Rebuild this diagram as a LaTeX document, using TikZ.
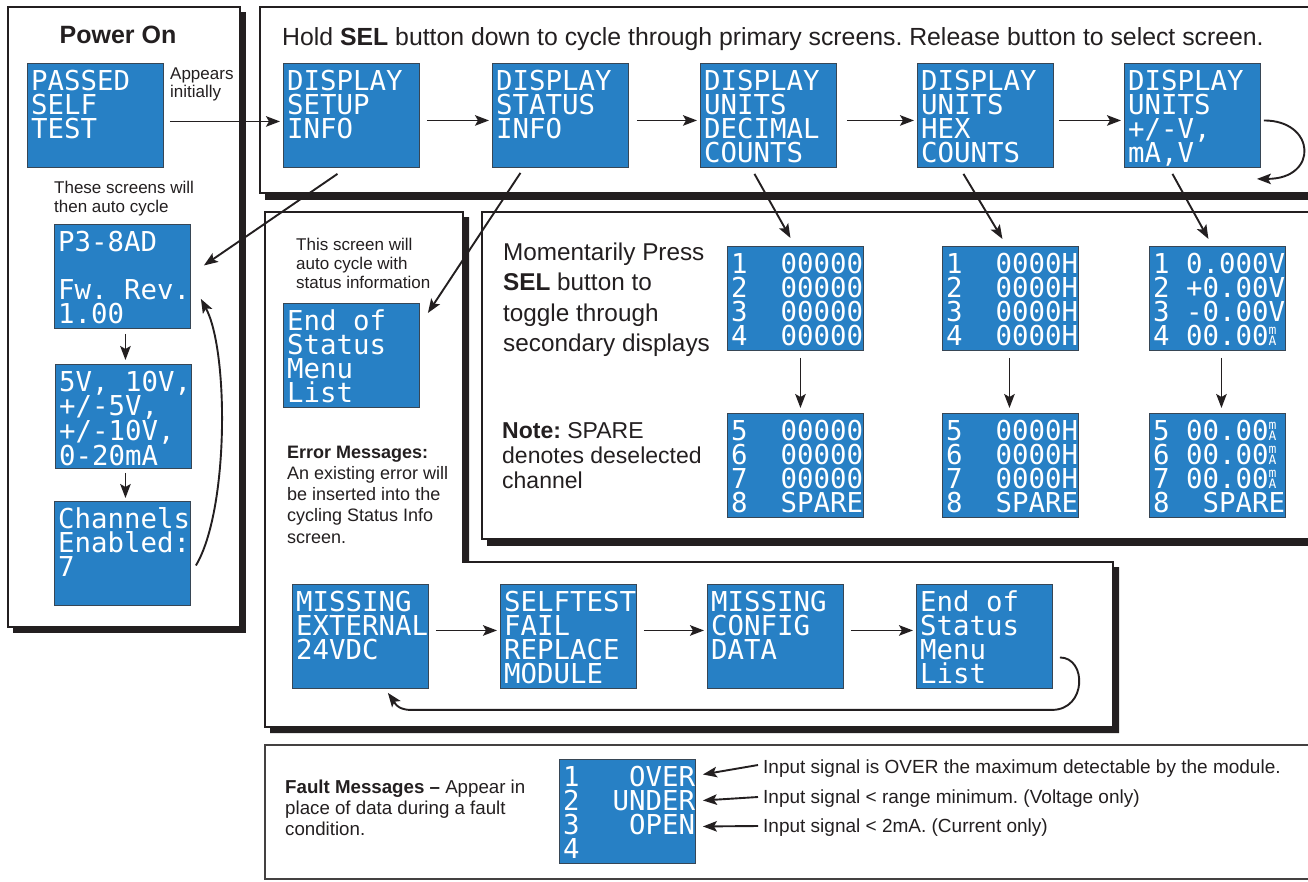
\documentclass[tikz,border=0pt]{standalone}
\usepackage{fontspec}
\setmainfont{Liberation Sans}
\newfontfamily\lcdfont{DejaVu Sans Mono}
\usetikzlibrary{arrows.meta,calc}
\definecolor{lcdblue}{RGB}{39,128,197}
\definecolor{ink}{RGB}{35,31,32}
\definecolor{lcdedge}{RGB}{55,70,85}
\frenchspacing
\tikzset{
  lcd/.style={draw=lcdedge, line width=0.9pt, fill=lcdblue, minimum width=136pt, minimum height=104pt, inner sep=0pt, anchor=north west},
  lcdtxt/.style={text=white, inner sep=0pt, anchor=base west, font=\lcdfont\fontsize{27.4}{24}\selectfont},
  arr/.style={draw=ink, line width=1.9pt, -{Stealth[length=14pt,width=10.5pt,inset=3pt]}},
  frame/.style={draw=ink, line width=1.5pt, fill=white},
  lbl/.style={inner sep=0pt, anchor=base west, text=ink},
}
\newcommand\tl[1]{\begin{tabular}[t]{@{}l@{}}#1\end{tabular}}
\newcommand\mAg{\makebox[0.602em][l]{\fontsize{13}{9}\selectfont\rlap{\raisebox{10.5pt}{m}}A}}
\newcommand\lcdscreen[4]{%
  \node[lcd] (#1) at (#2,#3) {};
  \node[lcdtxt] (#1-t) at ($(#1.north west)+(4,27)$) {\parbox[t]{140pt}{\lcdfont\fontsize{27.4}{24}\selectfont #4}};
}
\begin{document}
\begin{tikzpicture}[x=1pt,y=-1pt]
\useasboundingbox (0,0) rectangle (1308,881);
\clip (0,0) rectangle (1308,881);
% panels
\fill[ink] (13,12) rectangle (246,633);
\draw[frame] (8,7) rectangle (240,627);
\fill[ink] (265,12) rectangle (1320,200);
\draw[frame] (260,7) rectangle (1320,193);
\fill[ink] (487,217) rectangle (1320,546);
\draw[frame] (482,212) rectangle (1320,539);
\fill[ink] (270,217) -- (469,217) -- (469,567) -- (1119,567) -- (1119,733) -- (270,733) -- cycle;
\draw[frame] (265,212) -- (463,212) -- (463,562) -- (1113,562) -- (1113,727) -- (265,727) -- cycle;
\draw[frame, draw=ink!85] (265,745) rectangle (1320,879);

% screens
\lcdscreen{pass}{27}{63}{PASSED\\SELF\\TEST}
\lcdscreen{setup}{283}{63}{DISPLAY\\SETUP\\INFO}
\lcdscreen{status}{492}{63}{DISPLAY\\STATUS\\INFO}
\lcdscreen{dec}{700}{63}{DISPLAY\\UNITS\\DECIMAL\\COUNTS}
\lcdscreen{hex}{917}{63}{DISPLAY\\UNITS\\HEX\\COUNTS}
\lcdscreen{volt}{1124}{63}{DISPLAY\\UNITS\\+/-V,\\mA,V}
\lcdscreen{p3}{54}{224}{P3-8AD\\\mbox{}\\Fw.~Rev.\\1.00}
\lcdscreen{rng}{55}{364}{5V,~10V,\\+/-5V,\\+/-10V,\\0-20mA}
\lcdscreen{chan}{54}{501}{Channels\\Enabled:\\7}
\lcdscreen{endA}{283}{303}{End~of\\Status\\Menu\\List}
\lcdscreen{decA}{727}{246}{1~~00000\\2~~00000\\3~~00000\\4~~00000}
\lcdscreen{decB}{727}{413}{5~~00000\\6~~00000\\7~~00000\\8~~SPARE}
\lcdscreen{hexA}{942}{246}{1~~0000H\\2~~0000H\\3~~0000H\\4~~0000H}
\lcdscreen{hexB}{942}{413}{5~~0000H\\6~~0000H\\7~~0000H\\8~~SPARE}
\lcdscreen{voltA}{1149}{246}{1~0.000V\\2~+0.00V\\3~-0.00V\\4~00.00\mAg}
\lcdscreen{voltB}{1149}{413}{5~00.00\mAg\\6~00.00\mAg\\7~00.00\mAg\\8~~SPARE}
\lcdscreen{err1}{292}{584}{MISSING\\EXTERNAL\\24VDC}
\lcdscreen{err2}{500}{584}{SELFTEST\\FAIL\\REPLACE\\MODULE}
\lcdscreen{err3}{707}{584}{MISSING\\CONFIG\\DATA}
\lcdscreen{err4}{916}{584}{End~of\\Status\\Menu\\List}
\lcdscreen{fault}{559}{759}{1~~~OVER\\2~~UNDER\\3~~~OPEN\\4}

% texts
\node[lbl, anchor=base, font=\bfseries\fontsize{25}{30}\selectfont] (pwr) at (118,43) {Power On};
\node[lbl, font=\fontsize{17}{18}\selectfont] (appears) at (170,79) {\tl{Appears\\initially}};
\node[lbl, font=\fontsize{17}{19}\selectfont] (these) at (54,193) {\tl{These screens will\\then auto cycle}};
\node[lbl, font=\fontsize{24.8}{28}\selectfont] (title) at (282,45) {Hold \textbf{SEL} button down to cycle through primary screens. Release button to select screen.};
\node[lbl, font=\fontsize{17}{19}\selectfont] (thisscr) at (296,250) {\tl{This screen will\\auto cycle with\\status information}};
\node[lbl, font=\fontsize{18}{21.3}\selectfont] (errmsg) at (287,458) {\tl{\textbf{Error Messages:}\\An existing error will\\be inserted into the\\cycling Status Info\\screen.}};
\node[lbl, font=\fontsize{24.3}{30.5}\selectfont] (moment) at (503,260) {\tl{Momentarily Press\\\textbf{SEL} button to\\toggle through\\secondary displays}};
\node[lbl, font=\fontsize{23}{25}\selectfont] (note) at (502,438) {\tl{\textbf{Note:} SPARE\\denotes deselected\\channel}};
\node[lbl, font=\fontsize{18.7}{21}\selectfont] (faultmsg) at (285,793) {\tl{\textbf{Fault Messages –} Appear in\\place of data during a fault\\condition.}};
\node[lbl, font=\fontsize{19}{22}\selectfont] (in1) at (763,773) {Input signal is OVER the maximum detectable by the module.};
\node[lbl, font=\fontsize{19}{22}\selectfont] (in2) at (763,803) {Input signal < range minimum. (Voltage only)};
\node[lbl, font=\fontsize{19}{22}\selectfont] (in3) at (763,832) {Input signal < 2mA. (Current only)};

% top row connectors
\draw[arr] ($(pass.east)+(6,6)$) -- ($(setup.west)+(-3,6)$);
\draw[arr] ($(setup.east)+(7,5)$) -- ($(status.west)+(-3,5)$);
\draw[arr] ($(status.east)+(8,5)$) -- ($(dec.west)+(-3,5)$);
\draw[arr] ($(dec.east)+(10,5)$) -- ($(hex.west)+(-3,5)$);
\draw[arr] ($(hex.east)+(5,5)$) -- ($(volt.west)+(-3,5)$);
\draw[arr] ($(volt.east)+(3,5)$) .. controls +(52,0) and +(62,0) .. ($(volt.south east)+(-4,11)$);

% diagonals
\draw[arr] ($(setup.south)+(-14,6)$) -- ($(p3.east)+(13,-11)$);
\draw[arr] ($(status.south)+(-40,5)$) -- ($(endA.north east)+(8,10)$);
\draw[arr] ($(dec.south)+(-14,6)$) -- ($(decA.north)+(-5,-8)$);
\draw[arr] ($(hex.south)+(-22,6)$) -- ($(hexA.north)+(-8,-7)$);
\draw[arr] ($(volt.south)+(-20,6)$) -- ($(voltA.north)+(-9,-7)$);

% secondary downs
\draw[arr] ($(decA.south)+(5,7)$) -- ($(decB.north)+(5,-5)$);
\draw[arr] ($(hexA.south)+(-1,7)$) -- ($(hexB.north)+(-1,-5)$);
\draw[arr] ($(voltA.south)+(4,7)$) -- ($(voltB.north)+(4,-5)$);

% power column
\draw[arr] ($(p3.south)+(3,5)$) -- ($(rng.north)+(2,-4)$);
\draw[arr] ($(rng.south)+(2,4)$) -- ($(chan.north)+(3,-3)$);
\draw[arr] ($(chan.east)+(5,12)$) .. controls +(33,-55) and +(28,52) .. ($(p3.south east)+(10,-30)$);

% error row
\draw[arr] ($(err1.east)+(7,-6)$) -- ($(err2.west)+(-3,-6)$);
\draw[arr] ($(err2.east)+(7,-6)$) -- ($(err3.west)+(-3,-6)$);
\draw[arr] ($(err3.east)+(7,-6)$) -- ($(err4.west)+(-3,-6)$);
\draw[arr] ($(err4.east)+(7,21)$) .. controls +(27,0) and +(35,0) .. ($(err4.south east)+(-1,21)$) -- ($(err1.south east)+(-18,21)$) .. controls +(-15,0) and +(6,8) .. ($(err1.south east)+(-41,4)$);

% fault arrows
\draw[arr] ($(in1.base west)+(-5,-8)$) -- ($(fault.east)+(7,-37)$);
\draw[arr] ($(in2.base west)+(-5,-6)$) -- ($(fault.east)+(7,-11)$);
\draw[arr] ($(in3.base west)+(-5,-6)$) -- ($(fault.east)+(7,15)$);
\end{tikzpicture}
\end{document}
